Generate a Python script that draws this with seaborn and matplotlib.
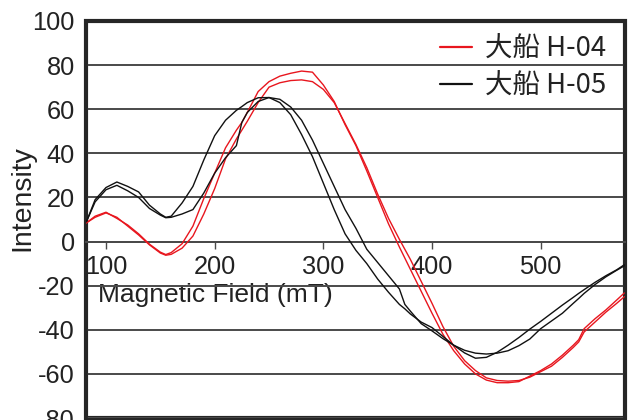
import numpy as np
import pandas as pd
import matplotlib
matplotlib.use("Agg")
import matplotlib.pyplot as plt
from matplotlib.lines import Line2D
import seaborn as sns

# Magnetic field sweep (mT) shared by all scans
field = [82, 90, 100, 110, 120, 130, 140, 150, 155, 160,
         170, 180, 190, 200, 210, 220, 225, 230, 240, 250,
         260, 270, 280, 290, 300, 310, 320, 330, 340, 350,
         360, 370, 375, 380, 390, 400, 410, 420, 430, 440,
         450, 460, 470, 480, 490, 500, 510, 520, 530, 535,
         540, 550, 560, 570, 577]

# 大船 H-04, two scans
h04_scan1 = [8.5, 11.5, 13.3, 10.5, 7.5, 3.5, -1.2, -4.8, -5.9, -5.0,
             -1.0, 7.0, 19.5, 31.0, 42.5, 50.5, 54.0, 58.5, 68.0, 72.5,
             75.0, 76.3, 77.3, 76.8, 71.0, 63.5, 53.0, 43.5, 32.0, 20.0,
             8.0, -2.5, -7.5, -12.5, -22.5, -32.5, -42.0, -49.5, -55.5, -60.0,
             -62.8, -64.0, -64.0, -63.5, -61.0, -58.5, -55.5, -51.5, -47.0, -44.5,
             -39.5, -35.0, -31.0, -26.5, -23.3]
h04_scan2 = [8.5, 11.0, 13.0, 11.0, 7.0, 3.0, -1.5, -5.2, -6.2, -5.8,
             -3.0, 2.5, 12.5, 24.0, 37.5, 46.5, 50.5, 54.5, 63.0, 70.0,
             72.0, 73.0, 73.3, 72.5, 69.0, 63.0, 53.5, 44.0, 33.5, 21.5,
             10.5, 1.0, -3.5, -8.0, -18.0, -28.0, -38.5, -47.5, -54.0, -58.5,
             -61.8, -63.0, -63.3, -63.0, -61.5, -59.0, -56.5, -52.5, -48.0, -45.5,
             -41.0, -36.5, -32.0, -28.0, -25.0]

# 大船 H-05, two scans
h05_scan1 = [9.0, 19.0, 24.5, 27.0, 25.0, 22.5, 16.5, 12.5, 11.0, 11.5,
             17.5, 25.0, 37.0, 48.0, 55.0, 59.5, 61.2, 63.0, 65.2, 65.3,
             63.0, 57.5, 48.5, 38.5, 26.5, 14.5, 3.5, -4.0, -10.0, -17.0,
             -23.0, -28.5, -30.5, -32.8, -36.5, -39.0, -43.0, -47.0, -50.5, -52.9,
             -52.5, -50.2, -47.0, -43.5, -39.7, -36.2, -32.5, -28.8, -25.3, -23.5,
             -21.8, -18.5, -15.5, -12.8, -10.5]
h05_scan2 = [9.0, 18.0, 23.5, 25.5, 23.0, 20.0, 15.0, 12.0, 10.8, 11.0,
             12.5, 14.5, 22.0, 31.0, 38.0, 43.5, 54.0, 58.5, 63.5, 65.3,
             64.5, 61.0, 55.0, 46.0, 35.5, 25.0, 14.5, 6.0, -3.5, -9.5,
             -15.5, -21.5, -28.5, -31.5, -37.2, -40.5, -44.0, -47.0, -49.3, -50.6,
             -51.0, -50.6, -49.5, -47.2, -44.2, -39.5, -36.0, -32.5, -28.0, -25.8,
             -23.5, -19.5, -16.0, -13.0, -11.0]

samples = ["大船 H-04", "大船 H-05"]
x_ticks = [100, 200, 300, 400, 500]
y_ticks = [-80, -60, -40, -20, 0, 20, 40, 60, 80, 100]

RED = "#e8161e"
BLACK = "#111111"
TEXT = "#222222"
GRID = "#4a4a4a"

frames = []
for name, scan, vals in [(samples[0], 1, h04_scan1), (samples[0], 2, h04_scan2),
                         (samples[1], 1, h05_scan1), (samples[1], 2, h05_scan2)]:
    frames.append(pd.DataFrame({"field": field, "intensity": vals,
                                "sample": name, "scan": scan}))
df = pd.concat(frames, ignore_index=True)

sns.set_theme(style="white")
plt.rcParams["font.family"] = ["Liberation Sans", "Noto Sans CJK JP", "DejaVu Sans"]
plt.rcParams["text.color"] = TEXT
plt.rcParams["axes.unicode_minus"] = False

fig = plt.figure(figsize=(6.28, 4.2), dpi=100)
ax = fig.add_axes([86 / 628, 1 - 418 / 420, 539 / 628, 397 / 420])

sns.lineplot(data=df, x="field", y="intensity", hue="sample", units="scan",
             estimator=None, sort=False, palette={samples[0]: RED, samples[1]: BLACK},
             linewidth=1.0, legend=False, ax=ax, zorder=3)

ax.set_xlim(81.6, 577.6)
ax.set_ylim(-80, 100)
ax.set_yticks(y_ticks)
ax.set_xticks(x_ticks)

# horizontal grid
ax.yaxis.grid(True, color=GRID, linewidth=1.4)
ax.xaxis.grid(False)
ax.set_axisbelow(True)

# frame: thick box, x axis running through zero
for side in ["left", "top", "right"]:
    ax.spines[side].set_visible(True)
    ax.spines[side].set_color("#262626")
    ax.spines[side].set_linewidth(2.6)
ax.spines["bottom"].set_position(("data", 0))
ax.spines["bottom"].set_color(GRID)
ax.spines["bottom"].set_linewidth(1.4)
ax.patch.set_edgecolor("#262626")
ax.patch.set_linewidth(3.0)

ax.tick_params(axis="y", length=0, pad=8, labelsize=18.3, labelcolor=TEXT)
ax.tick_params(axis="x", direction="out", length=5, width=1, color=GRID,
               pad=5, labelsize=18.3, labelcolor=TEXT, bottom=True)

ax.set_xlabel("Magnetic Field (mT)", fontsize=19, color=TEXT)
ax.xaxis.label.set_ha("left")
ax.xaxis.label.set_va("baseline")
ax.xaxis.set_label_coords((98 - 86) / 539, (418 - 302) / 397)

ax.set_ylabel("")
fig.text(22 / 628, 1 - 198 / 420, "Intensity", rotation=90, ha="center",
         va="center", fontsize=20.5, color=TEXT)

handles = [Line2D([], [], color=RED, linewidth=1.6),
           Line2D([], [], color=BLACK, linewidth=1.6)]
ax.legend(handles, samples, loc="upper right", bbox_to_anchor=(0.985, 0.99),
          frameon=False, prop={"family": ["Noto Sans CJK JP"], "size": 19.8},
          handlelength=1.16, handletextpad=0.47, labelspacing=0.35,
          borderaxespad=0.0, labelcolor=TEXT)

fig.savefig("out.png", dpi=100)
